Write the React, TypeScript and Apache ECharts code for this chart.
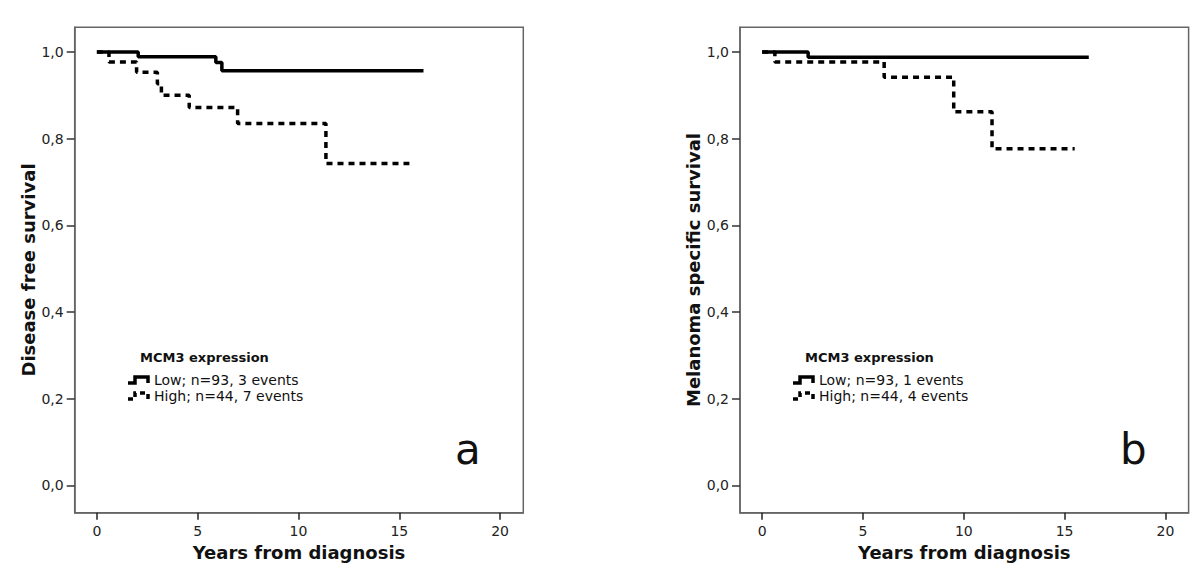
import React, { useEffect, useRef } from "react";
import * as echarts from "echarts";

// ---- Data (Kaplan–Meier steps: [years, survival after the step]) ----
const dfsLow: [number, number][] = [
  [0, 1.0], [2.05, 0.989], [5.9, 0.976], [6.2, 0.957], [16.2, 0.957],
];
const dfsHigh: [number, number][] = [
  [0, 1.0], [0.6, 0.977], [1.97, 0.953], [3.0, 0.927], [3.2, 0.9],
  [4.58, 0.872], [6.98, 0.835], [11.36, 0.743], [15.5, 0.743],
];
const mssLow: [number, number][] = [
  [0, 1.0], [2.28, 0.988], [16.2, 0.988],
];
const mssHigh: [number, number][] = [
  [0, 1.0], [0.63, 0.977], [6.05, 0.942], [9.5, 0.862], [11.4, 0.777], [15.5, 0.777],
];
const xTicks = [0, 5, 10, 15, 20];
const yTicks = [0, 0.2, 0.4, 0.6, 0.8, 1.0];
const yNames = ["Disease free survival", "Melanoma specific survival"];
const xName = "Years from diagnosis";
const legendTitle = "MCM3 expression";
const legendLow = ["Low; n=93, 3 events", "Low; n=93, 1 events"];
const legendHigh = ["High; n=44, 7 events", "High; n=44, 4 events"];
const panelLetters = ["a", "b"];

const FONT = "DejaVu Sans";
const AXIS_GREY = "#666666";

function axisPair(idx: number) {
  const x = {
    type: "value",
    gridIndex: idx,
    position: "bottom",
    min: -1.1,
    max: 21.15,
    name: xName,
    nameLocation: "middle",
    nameGap: 31,
    nameTextStyle: { fontFamily: FONT, fontWeight: "bold", fontSize: 18, color: "#111" },
    splitLine: { show: false },
    axisLine: { show: true, onZero: false, lineStyle: { color: AXIS_GREY, width: 1.5 } },
    axisTick: { show: true, customValues: xTicks, length: 7, lineStyle: { color: "#222", width: 1.5 } },
    axisLabel: { show: true, customValues: xTicks, fontFamily: FONT, fontSize: 14, color: "#222", margin: 11 },
  };
  const y = {
    type: "value",
    gridIndex: idx,
    min: -0.063,
    max: 1.057,
    name: yNames[idx],
    nameLocation: "middle",
    nameGap: 36,
    nameTextStyle: { fontFamily: FONT, fontWeight: "bold", fontSize: 18, color: "#111" },
    splitLine: { show: false },
    axisLine: { show: true, onZero: false, lineStyle: { color: AXIS_GREY, width: 1.5 } },
    axisTick: { show: true, customValues: yTicks, length: 8, lineStyle: { color: "#333", width: 1.5 } },
    axisLabel: {
      show: true,
      customValues: yTicks,
      fontFamily: FONT,
      fontSize: 14,
      color: "#222",
      margin: 11,
      formatter: (v: number) => v.toFixed(1).replace(".", ","),
    },
  };
  return { x, y };
}

function legendGraphics(offsetX: number, idx: number) {
  const lx = 128 + offsetX;
  return [
    {
      type: "text",
      left: 140 + offsetX,
      top: 351,
      style: { text: legendTitle, font: `bold 13px "${FONT}"`, fill: "#111" },
    },
    {
      type: "polyline",
      shape: { points: [[lx, 383], [lx + 7, 383], [lx + 7, 377], [lx + 20, 377], [lx + 20, 383]] },
      style: { stroke: "#000", lineWidth: 3.5, fill: null },
    },
    {
      type: "text",
      left: 154 + offsetX,
      top: 373,
      style: { text: legendLow[idx], font: `14px "${FONT}"`, fill: "#111" },
    },
    {
      type: "polyline",
      shape: { points: [[lx, 399], [lx + 7, 399], [lx + 7, 393], [lx + 20, 393], [lx + 20, 399]] },
      style: { stroke: "#000", lineWidth: 3.5, fill: null, lineDash: [5, 4] },
    },
    {
      type: "text",
      left: 154 + offsetX,
      top: 389,
      style: { text: legendHigh[idx], font: `14px "${FONT}"`, fill: "#111" },
    },
    {
      type: "text",
      left: 455 + offsetX,
      top: 428,
      style: { text: panelLetters[idx], font: `42px "${FONT}"`, fill: "#111" },
    },
  ];
}

export default function App() {
  const ref = useRef<HTMLDivElement>(null);
  useEffect(() => {
    if (!ref.current) return;
    const chart = echarts.init(ref.current, null, { renderer: "svg" });
    const a0 = axisPair(0);
    const a1 = axisPair(1);
    const solid = { color: "#000", width: 3.5, type: "solid" };
    const dashed = { color: "#000", width: 3.5, type: [6, 5] };
    const mk = (data: [number, number][], idx: number, ls: any) => ({
      type: "line",
      xAxisIndex: idx,
      yAxisIndex: idx,
      data,
      step: "end",
      symbol: "none",
      lineStyle: ls,
      silent: true,
    });
    chart.setOption({
      animation: false,
      backgroundColor: "#fff",
      grid: [
        { left: 74.7, right: 676.7, top: 27.3, bottom: 71.3, show: true, borderColor: AXIS_GREY, borderWidth: 1.5, backgroundColor: "transparent" },
        { left: 740, right: 11.4, top: 27.3, bottom: 71.3, show: true, borderColor: AXIS_GREY, borderWidth: 1.5, backgroundColor: "transparent" },
      ],
      xAxis: [a0.x, a1.x],
      yAxis: [a0.y, a1.y],
      series: [
        mk(dfsHigh, 0, dashed),
        mk(dfsLow, 0, solid),
        mk(mssHigh, 1, dashed),
        mk(mssLow, 1, solid),
      ],
      graphic: [...legendGraphics(0, 0), ...legendGraphics(665, 1)],
    });
    return () => chart.dispose();
  }, []);
  return (
    <div
      ref={ref}
      style={{ position: "fixed", left: 0, top: 0, width: 1200, height: 584, background: "#fff" }}
    />
  );
}
